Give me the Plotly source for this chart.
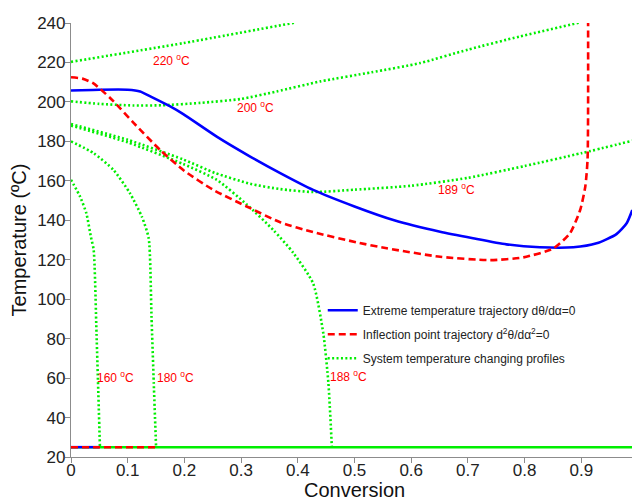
import plotly.graph_objects as go

# ---- data ----
blue_x = [0, 0.05, 0.1, 0.122, 0.139, 0.175, 0.198, 0.257, 0.316, 0.369, 0.427, 0.5, 0.57, 0.651, 0.709, 0.768, 0.827, 0.886, 0.927, 0.962, 0.98, 0.99]
blue_y = [205.8, 206.2, 206.2, 205.3, 202.9, 197.7, 193.8, 182.4, 172.3, 163.9, 155.4, 147.0, 140.0, 134.2, 130.9, 127.8, 126.3, 126.3, 128.3, 133.0, 138.5, 145.2]

red_x = [0, 0.02, 0.039, 0.069, 0.086, 0.11, 0.157, 0.2, 0.251, 0.31, 0.369, 0.427, 0.504, 0.557, 0.651, 0.739, 0.798, 0.851, 0.88, 0.898, 0.907, 0.911, 0.912]
red_y = [212.5, 211.8, 209.5, 202.0, 197.0, 189.5, 175.7, 165.0, 155.4, 147.0, 139.0, 134.0, 128.8, 125.8, 121.5, 119.8, 121.2, 125.8, 133.4, 145.2, 157.0, 170.6, 240.0]

base_x = [0, 0.99]
base_y = [25, 25]
blue_base_x = [0, 0.05]
blue_base_y = [25, 25]
red_base_x = [0, 0.15]
red_base_y = [25, 25]

p220_x = [0, 0.198, 0.395]
p220_y = [220.3, 229.8, 240.2]

p200_x = [0, 0.05, 0.11, 0.16, 0.228, 0.3, 0.363, 0.44, 0.53, 0.616, 0.7, 0.792, 0.898]
p200_y = [200.3, 199.0, 198.2, 198.3, 199.5, 201.5, 205.3, 210.4, 215.0, 219.7, 226.5, 233.2, 240.3]

p189_x = [0, 0.1, 0.198, 0.254, 0.316, 0.369, 0.427, 0.5, 0.6, 0.7, 0.8, 0.9, 0.99]
p189_y = [188.8, 180.8, 170.8, 164.0, 158.5, 155.8, 154.3, 155.5, 157.5, 161.5, 167.5, 174.0, 180.3]

p188_x = [0, 0.1, 0.198, 0.257, 0.31, 0.357, 0.392, 0.427, 0.445, 0.454, 0.46]
p188_y = [188.0, 179.5, 168.5, 160.5, 148.0, 135.0, 123.5, 108.0, 82.6, 57.3, 25.4]

p180_x = [0, 0.04, 0.075, 0.104, 0.125, 0.137, 0.142, 0.146, 0.15]
p180_y = [180.0, 174.0, 165.5, 153.7, 141.8, 130.9, 91.0, 57.3, 25.4]

p160_x = [0, 0.016, 0.027, 0.035, 0.04, 0.045, 0.051]
p160_y = [160.5, 152.0, 143.6, 131.7, 124.9, 82.6, 25.4]

label_text = ["220 <sup>o</sup>C", "200 <sup>o</sup>C", "189 <sup>o</sup>C",
              "160 <sup>o</sup>C", "180 <sup>o</sup>C", "188 <sup>o</sup>C"]
label_x = [0.178, 0.326, 0.68, 0.079, 0.184, 0.489]
label_y = [221.4, 197.5, 155.9, 60.6, 60.6, 61.0]

x_ticks = [0, 0.1, 0.2, 0.3, 0.4, 0.5, 0.6, 0.7, 0.8, 0.9, 1]
x_tick_text = ["0", "0.1", "0.2", "0.3", "0.4", "0.5", "0.6", "0.7", "0.8", "0.9", "1"]
y_ticks = [20, 40, 60, 80, 100, 120, 140, 160, 180, 200, 220, 240]
x_title = "Conversion"
y_title = "Temperature (ºC)"

# ---- styles ----
GREEN = "#00ee00"
BLUE = "#0000ff"
RED = "#ff0000"
green_line = dict(color=GREEN, width=2.6, dash="2px,2.4px", shape="spline", smoothing=0.6)
FONT = "Liberation Sans, Arial, sans-serif"

fig = go.Figure()

# green solid baseline
fig.add_trace(go.Scatter(x=base_x, y=base_y, mode="lines", line=dict(color=GREEN, width=2.5),
                         showlegend=False, legendgroup="g", hoverinfo="skip"))

profiles = [(p220_x, p220_y), (p200_x, p200_y), (p189_x, p189_y),
            (p188_x, p188_y), (p180_x, p180_y), (p160_x, p160_y)]
for i, (px, py) in enumerate(profiles):
    fig.add_trace(go.Scatter(x=px, y=py, mode="lines", line=green_line,
                             name="System temperature changing profiles",
                             legendgroup="g", legendrank=3, showlegend=(i == 0)))

fig.add_trace(go.Scatter(x=blue_base_x, y=blue_base_y, mode="lines",
                         line=dict(color=BLUE, width=2.5), showlegend=False,
                         legendgroup="b"))
fig.add_trace(go.Scatter(x=blue_x, y=blue_y, mode="lines",
                         line=dict(color=BLUE, width=2.6, shape="spline", smoothing=0.6),
                         name="Extreme temperature trajectory dθ/dα=0",
                         legendgroup="b", legendrank=1))
fig.add_trace(go.Scatter(x=red_base_x, y=red_base_y, mode="lines",
                         line=dict(color=RED, width=2.5, dash="7px,4px"), showlegend=False,
                         legendgroup="r"))
fig.add_trace(go.Scatter(x=red_x, y=red_y, mode="lines",
                         line=dict(color=RED, width=2.6, dash="7px,4px", shape="spline", smoothing=0.6),
                         name="Inflection point trajectory d<sup>2</sup>θ/dα<sup>2</sup>=0",
                         legendgroup="r", legendrank=2))

for t, lx, ly in zip(label_text, label_x, label_y):
    fig.add_annotation(x=lx, y=ly, text=t, showarrow=False,
                       font=dict(family=FONT, size=12, color=RED))

# x-axis title as an annotation so it can sit at the very bottom edge
fig.add_annotation(x=0.5, y=0, xref="paper", yref="paper", yanchor="top", yshift=-20,
                   text=x_title, showarrow=False,
                   font=dict(family=FONT, size=20, color="#111111"))

axis_common = dict(showline=True, linecolor="#8c8c8c", linewidth=1.2, ticks="outside",
                   ticklen=5, tickcolor="#8c8c8c", showgrid=False, zeroline=False,
                   tickfont=dict(family=FONT, size=17, color="#222222"), automargin=False)

# page body has an 8px margin, so the figure is drawn offset by 8px
fig.update_layout(
    width=632, height=491,
    margin=dict(l=63, r=2, t=15, b=42),
    paper_bgcolor="white", plot_bgcolor="white",
    font=dict(family=FONT),
    xaxis=dict(range=[0, 1], tickvals=x_ticks, ticktext=x_tick_text, ticklabelstandoff=-8,
               ticklabeloverflow="allow", **axis_common),
    yaxis=dict(range=[20, 240], tickvals=y_ticks, ticklabelstandoff=-4,
               title=dict(text=y_title, font=dict(family=FONT, size=20, color="#111111"),
                          standoff=7),
               **axis_common),
    legend=dict(x=0.444, y=0.283, xanchor="left", yanchor="middle",
                bgcolor="rgba(0,0,0,0)", borderwidth=0, traceorder="grouped",
                tracegroupgap=5, font=dict(family=FONT, size=12, color="#222222")),
    showlegend=True,
)

fig.write_html("out.html")
